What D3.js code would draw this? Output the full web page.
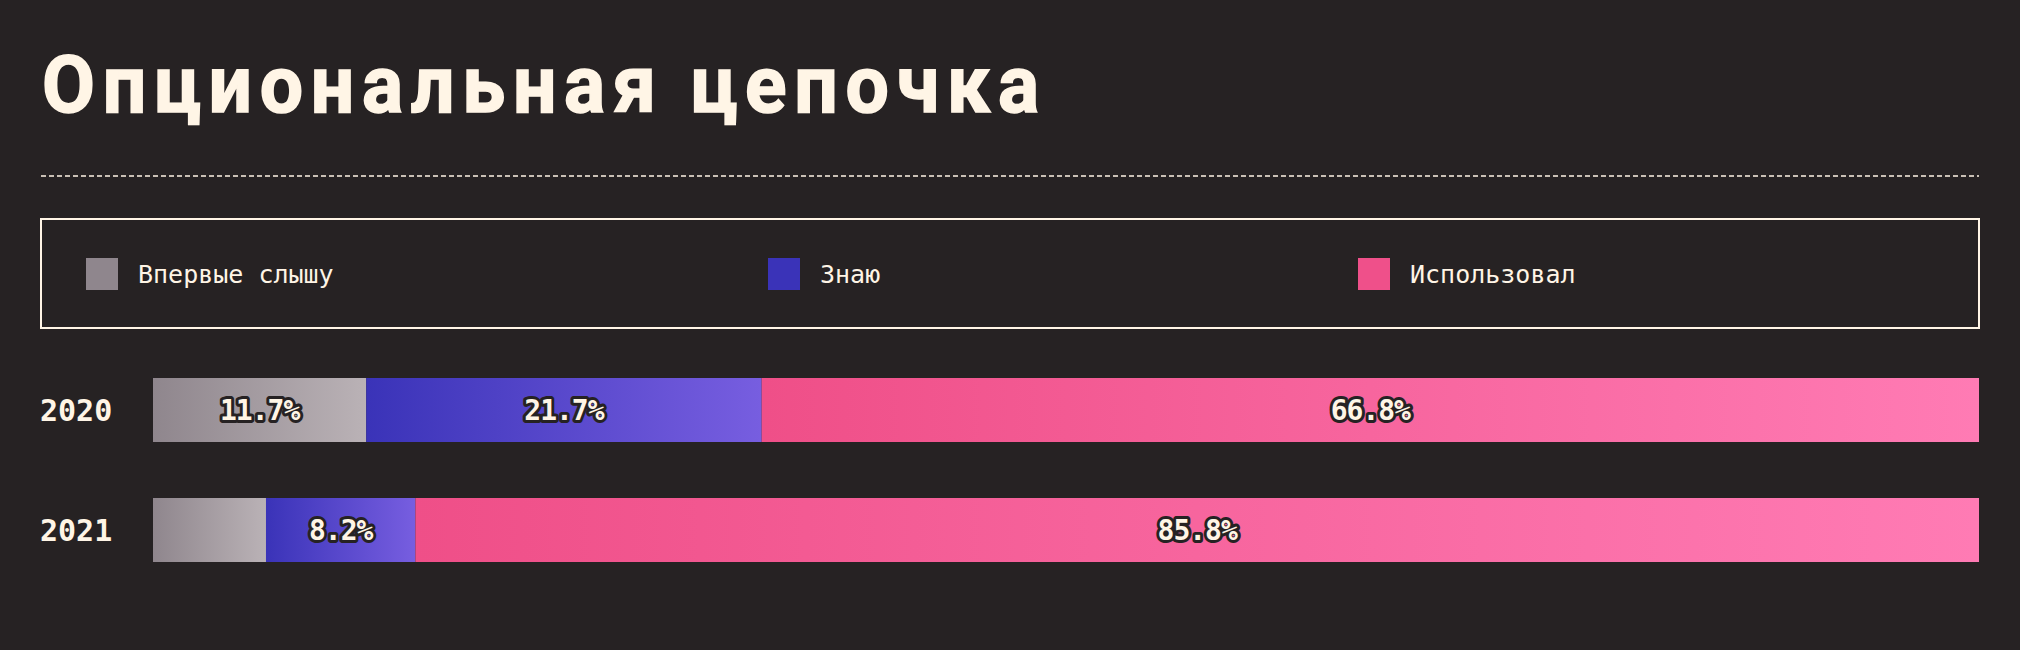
<!DOCTYPE html>
<html>
<head>
<meta charset="utf-8">
<script src="https://cdn.jsdelivr.net/npm/d3@7/dist/d3.min.js"></script>
<style>
  html, body { margin: 0; padding: 0; background: #262223; }
  svg { display: block; }
</style>
</head>
<body>
<svg id="chart" width="2020" height="650"></svg>
<script>
// ---- data ----
const title = "Опциональная цепочка";
const years = ["2020", "2021"];
const seriesNames = ["Впервые слышу", "Знаю", "Использовал"];
const firstHeard = [11.7, 6.2];
const know = [21.7, 8.2];
const used = [66.8, 85.8];
const showLabel = [[true, true, true], [false, true, true]];

// ---- style ----
const bg = "#262223";
const cream = "#fff5e6";
const swatchColors = ["#8f868d", "#3a33b8", "#ef508a"];
const gradStops = [["#8f868d", "#bab2b6"], ["#3a33b8", "#775ee0"], ["#ef4f88", "#ff7bb4"]];
const mono = "'DejaVu Sans Mono', 'Liberation Mono', monospace";

const svg = d3.select("#chart");
svg.append("rect").attr("width", 2020).attr("height", 650).attr("fill", bg);

const defs = svg.append("defs");
gradStops.forEach((s, i) => {
  const g = defs.append("linearGradient").attr("id", "grad" + i)
    .attr("x1", "0%").attr("x2", "100%").attr("y1", "0%").attr("y2", "0%");
  g.append("stop").attr("offset", "0%").attr("stop-color", s[0]);
  g.append("stop").attr("offset", "100%").attr("stop-color", s[1]);
});

// title: glyphs slightly squeezed, spacing fitted to the measured width
const sx = 0.96;
const titleTargetW = 997;
const titleEl = svg.append("text")
  .attr("transform", `translate(42,112) scale(${sx},1)`)
  .attr("fill", cream)
  .attr("stroke", cream).attr("stroke-width", 1.6)
  .attr("font-family", "Roboto, 'Noto Sans', sans-serif")
  .attr("font-weight", 700)
  .attr("font-size", 80)
  .text(title);
const natW = titleEl.node().getComputedTextLength();
const ls = (titleTargetW / sx - natW) / (title.length - 1);
titleEl.attr("letter-spacing", ls);

// dashed rule
svg.append("line")
  .attr("x1", 41).attr("x2", 1979).attr("y1", 176).attr("y2", 176)
  .attr("stroke", cream).attr("stroke-width", 1.5).attr("stroke-dasharray", "5,3");

// legend
svg.append("rect")
  .attr("x", 41).attr("y", 219).attr("width", 1938).attr("height", 109)
  .attr("fill", "none").attr("stroke", cream).attr("stroke-width", 2);

const legendPos = [86, 768, 1358];
const lg = svg.append("g").selectAll("g").data(seriesNames).join("g")
  .attr("transform", (d, i) => `translate(${legendPos[i]},258)`);
lg.append("rect").attr("width", 32).attr("height", 32).attr("fill", (d, i) => swatchColors[i]);
lg.append("text")
  .attr("x", 52).attr("y", 16).attr("dy", "0.35em")
  .attr("fill", cream).attr("font-family", mono).attr("font-size", 25)
  .text(d => d);

// bars
const rows = years.map((y, i) => {
  const vals = [firstHeard[i], know[i], used[i]];
  const total = d3.sum(vals);
  let acc = 0;
  const segs = vals.map((v, j) => {
    const s = { year: y, series: j, value: v, x0: acc / total, x1: (acc + v) / total, show: showLabel[i][j] };
    acc += v;
    return s;
  });
  return { year: y, segs };
});

const x = d3.scaleLinear().domain([0, 1]).range([153, 1979]);
const yScale = d3.scaleBand().domain(years).range([378, 562]).paddingInner(56 / 120);

// year labels
svg.append("g").selectAll("text").data(years).join("text")
  .attr("x", 40)
  .attr("y", d => yScale(d) + yScale.bandwidth() / 2)
  .attr("dy", "0.36em")
  .attr("fill", cream).attr("font-family", mono).attr("font-weight", 700).attr("font-size", 30)
  .text(d => d);

const rowG = svg.append("g").selectAll("g").data(rows).join("g")
  .attr("transform", d => `translate(0,${yScale(d.year)})`);

rowG.selectAll("rect").data(d => d.segs).join("rect")
  .attr("x", d => x(d.x0))
  .attr("width", d => x(d.x1) - x(d.x0))
  .attr("y", 0)
  .attr("height", yScale.bandwidth())
  .attr("fill", d => `url(#grad${d.series})`);

rowG.selectAll("text").data(d => d.segs.filter(s => s.show)).join("text")
  .attr("x", d => (x(d.x0) + x(d.x1)) / 2)
  .attr("y", yScale.bandwidth() / 2)
  .attr("dy", "0.36em")
  .attr("text-anchor", "middle")
  .attr("font-family", mono).attr("font-weight", 700).attr("font-size", 28)
  .attr("letter-spacing", -1)
  .attr("fill", cream)
  .attr("stroke", bg).attr("stroke-width", 6).attr("stroke-linejoin", "round")
  .attr("paint-order", "stroke")
  .text(d => d.value.toFixed(1) + "%");
</script>
</body>
</html>
